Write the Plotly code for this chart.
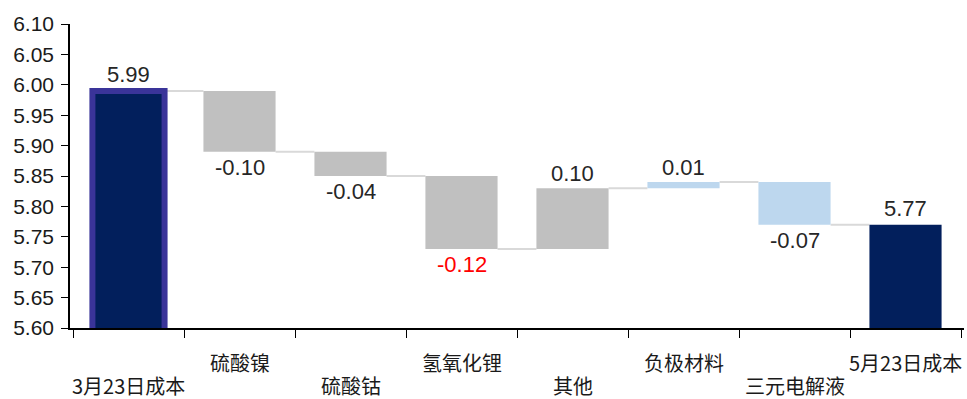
import plotly.graph_objects as go

# Cost bridge: 3月23日 -> 5月23日
categories = ["3月23日成本", "硫酸镍", "硫酸钴", "氢氧化锂", "其他", "负极材料", "三元电解液", "5月23日成本"]
start_cost = 5.99
changes = [-0.10, -0.04, -0.12, 0.10, 0.01, -0.07]
end_cost = 5.77
y_ticks = [5.60, 5.65, 5.70, 5.75, 5.80, 5.85, 5.90, 5.95, 6.00, 6.05, 6.10]

NAVY = "#021f5c"
NAVY_EDGE = "#3a3499"
GREY = "#c0c0c0"
LIGHT_BLUE = "#bdd7ee"
RED = "#ff0000"
TEXT = "#262626"
BAR_W = 0.65

# running levels
levels = [start_cost]
for c in changes:
    levels.append(round(levels[-1] + c, 4))

bases = [0]
heights = [start_cost]
for i, c in enumerate(changes):
    lo = min(levels[i], levels[i + 1])
    bases.append(lo)
    heights.append(abs(c))
bases.append(0)
heights.append(end_cost)

colors = [NAVY, GREY, GREY, GREY, GREY, LIGHT_BLUE, LIGHT_BLUE, NAVY]
edge_colors = [NAVY_EDGE] + ["rgba(0,0,0,0)"] * 7
edge_widths = [6] + [0] * 7

fig = go.Figure()
fig.add_trace(go.Bar(
    x=categories, y=heights, base=bases, width=BAR_W,
    marker=dict(color=colors, line=dict(color=edge_colors, width=edge_widths)),
    hoverinfo="skip", showlegend=False,
))

# connector lines between consecutive bars
shapes = []
for i in range(len(categories) - 1):
    lvl = levels[i] if i < len(levels) else end_cost
    shapes.append(dict(
        type="line", xref="x", yref="y",
        x0=i + BAR_W / 2, x1=i + 1 - BAR_W / 2, y0=lvl, y1=lvl,
        line=dict(color="#d9d9d9", width=2), layer="below",
    ))

# value labels
values = [start_cost] + changes + [end_cost]
annotations = []
for i, v in enumerate(values):
    if i == 0 or i == len(values) - 1:
        y, anchor, shift = v, "bottom", 2
    elif v >= 0:
        y, anchor, shift = levels[i], "bottom", 0
    else:
        y, anchor, shift = levels[i], "top", -1
    color = RED if v == min(changes) else TEXT
    annotations.append(dict(
        x=categories[i], y=y, xref="x", yref="y",
        text=f"{v:.2f}", showarrow=False, yanchor=anchor, yshift=shift,
        font=dict(family="Liberation Sans, Arial", size=22, color=color),
    ))

# category labels, staggered on two rows below the axis
for i, c in enumerate(categories):
    annotations.append(dict(
        x=c, y=0, xref="x", yref="paper",
        text=c, showarrow=False, yanchor="middle",
        yshift=-34 if i % 2 else -57,
        font=dict(family="Noto Sans CJK SC", size=20, color="#1a1a1a"),
    ))

fig.update_layout(
    width=967, height=399,
    margin=dict(l=70, r=3, t=24, b=71),
    paper_bgcolor="white", plot_bgcolor="white",
    bargap=1 - BAR_W,
    shapes=shapes, annotations=annotations,
    xaxis=dict(
        type="category", tickson="boundaries", ticks="outside", ticklen=8, tickcolor="#000",
        showticklabels=False, automargin=False,
        showline=True, linecolor="#000", linewidth=1.5, showgrid=False,
    ),
    yaxis=dict(
        range=[5.60, 6.10], tickmode="array", tickvals=y_ticks,
        ticktext=[f"{t:.2f}" for t in y_ticks], automargin=False,
        ticks="outside", ticklen=7, tickcolor="#000", ticklabelstandoff=3,
        showline=True, linecolor="#000", linewidth=1.5, showgrid=False, zeroline=False,
        tickfont=dict(family="Liberation Sans, Arial", size=21, color="#1a1a1a"),
    ),
)

fig.write_html("out.html")
